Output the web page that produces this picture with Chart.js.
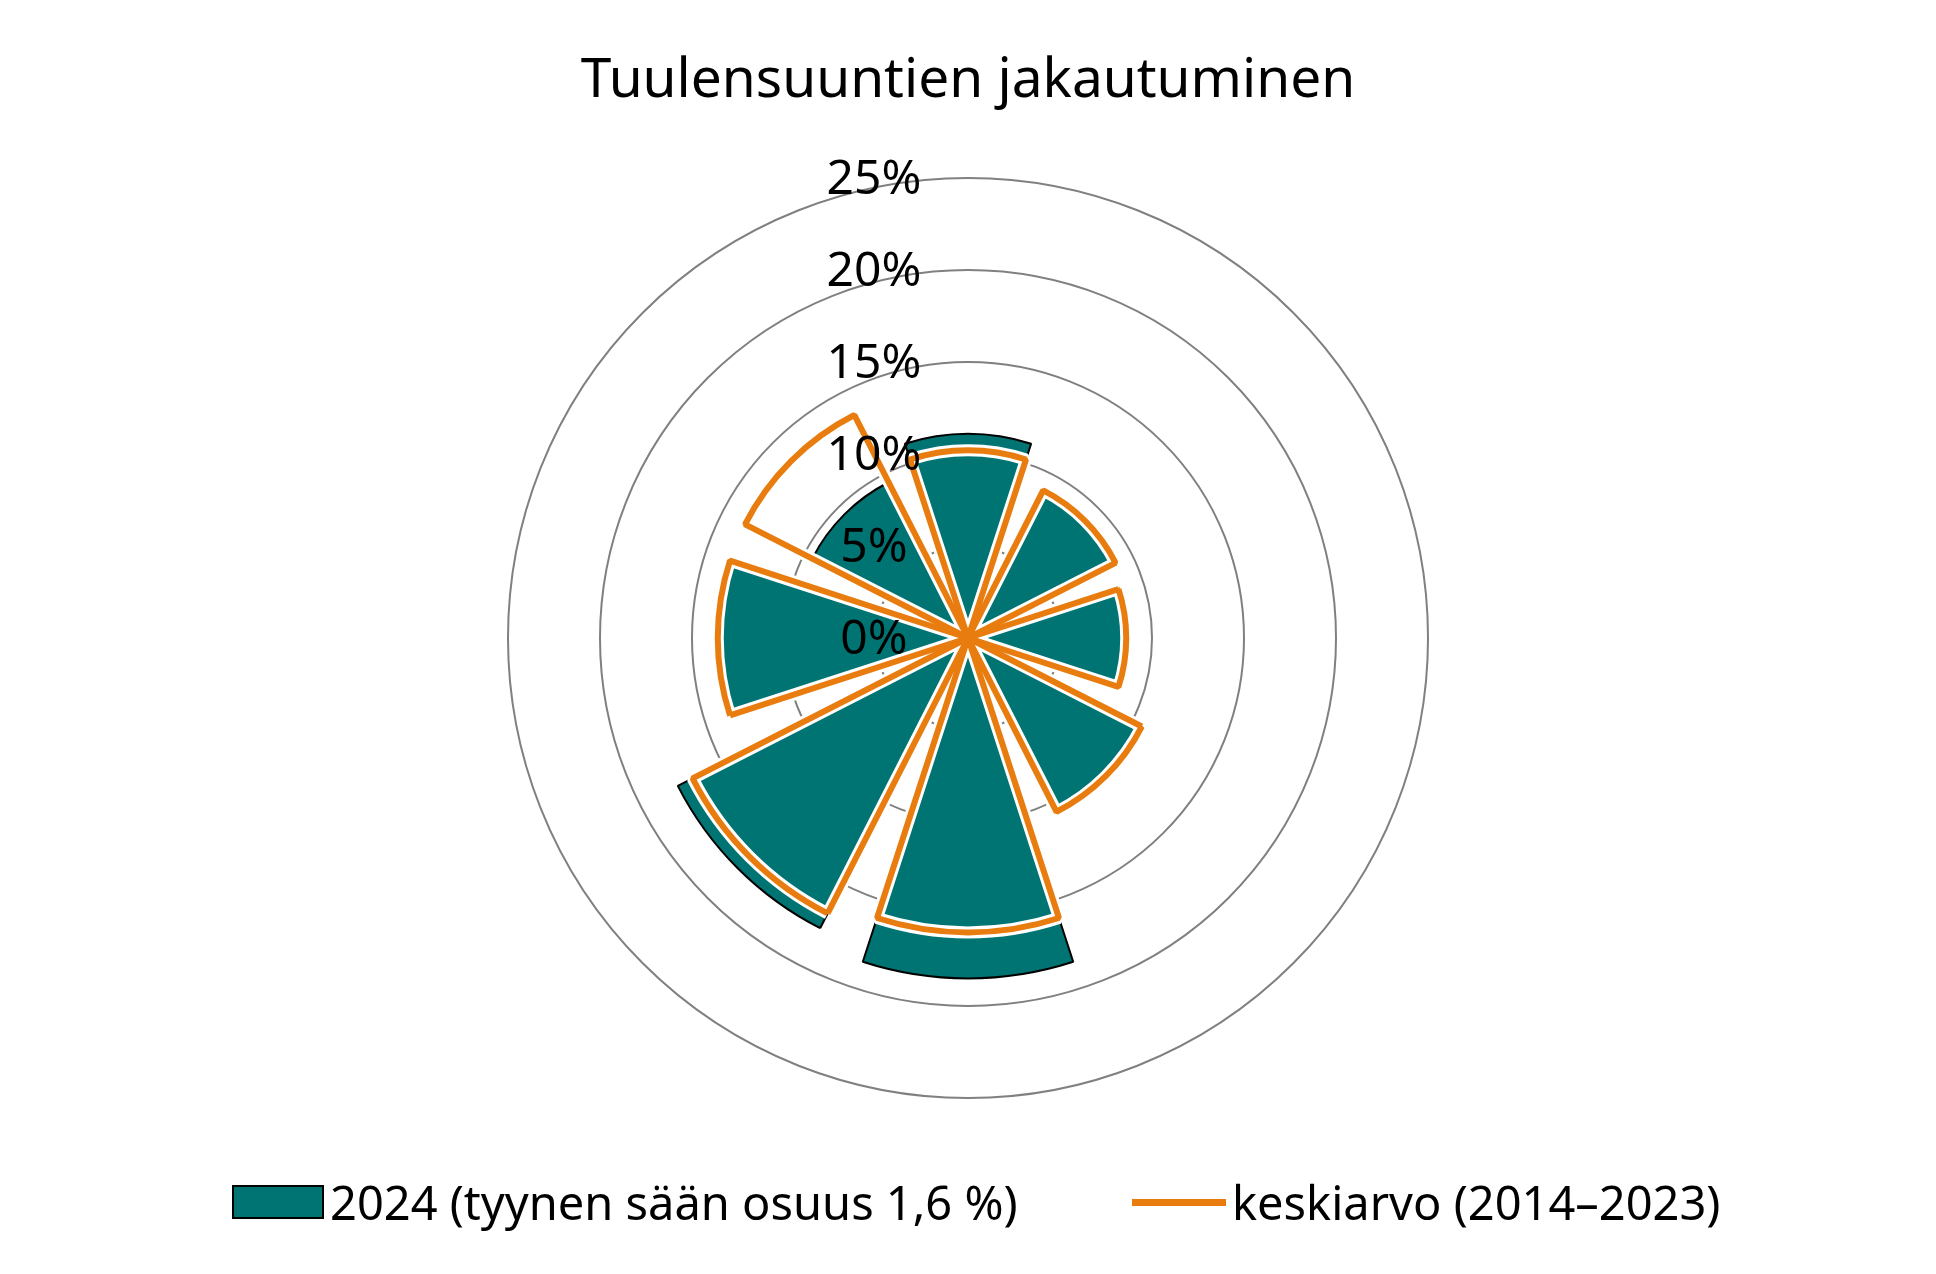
<!DOCTYPE html>
<html><head><meta charset="utf-8">
<script src="https://cdn.jsdelivr.net/npm/chart.js@4"></script>
<style>
body{margin:0;background:#fff;width:1936px;height:1274px;position:relative;overflow:hidden;font-family:"Noto Sans",sans-serif}
#title{position:absolute;top:38px;width:100%;text-align:center;font-size:55px;color:#000}
#legend{position:absolute;top:1170px;left:0;width:100%;font-size:47px;color:#000}
.li{position:absolute;display:flex;align-items:center}
</style></head><body>
<canvas id="c" width="1936" height="1274" style="position:absolute;left:0;top:0"></canvas>
<div id="title">Tuulensuuntien jakautuminen</div>
<div id="legend">
 <div class="li" style="left:232px"><span style="display:inline-block;width:88px;height:30px;background:#007473;border:2px solid #000;margin-right:6px"></span>2024 (tyynen sään osuus 1,6 %)</div>
 <div class="li" style="left:1132px"><span style="display:inline-block;width:94px;height:7px;background:#E87C0E;margin-right:6px"></span>keskiarvo (2014–2023)</div>
</div>
<script>
const directions = ["N","NE","E","SE","S","SW","W","NW"];
const values2024 = [11.1, 8.9, 8.5, 10.6, 18.5, 17.7, 13.4, 9.5];
const valuesAvg = [10.2, 9.0, 8.6, 10.6, 16.0, 16.8, 13.6, 13.6];
const tickLabels = ["0%","5%","10%","15%","20%","25%"];

const labels = [], d1 = [], d2 = [];
directions.forEach((d,i)=>{labels.push(d, ""); d1.push(values2024[i], 0); d2.push(valuesAvg[i], 0);});
const angleFn = ctx => (ctx.dataIndex % 2 === 0 ? 36 : 9);

const tickPlugin = {
  id:'ticks',
  afterDatasetsDraw(chart){
    const s = chart.scales.r, c = chart.ctx;
    c.save(); c.font = '48px "Noto Sans"'; c.fillStyle = '#000'; c.textAlign='center'; c.textBaseline='middle';
    tickLabels.forEach((t,i)=>{
      const r = s.getDistanceFromCenterForValue(i*5);
      c.fillText(t, s.xCenter - 94, s.yCenter - r + 2);
    });
    c.restore();
  }
};

new Chart(document.getElementById('c'), {
  type:'polarArea',
  data:{labels, datasets:[
    {label:'2024', data:d1, backgroundColor:'#007473', borderColor:'#000', borderWidth:2, angle:angleFn, order:2},
    {label:'halo', data:d2, backgroundColor:'rgba(0,0,0,0)', borderColor:'#fff', borderWidth:12, angle:angleFn, order:1},
    {label:'keskiarvo', data:d2, backgroundColor:'rgba(0,0,0,0)', borderColor:'#E87C0E', borderWidth:6, angle:angleFn, order:0}
  ]},
  options:{
    responsive:false, animation:false,
    layout:{padding:{top:178,bottom:176,left:508,right:508}},
    plugins:{legend:{display:false}, title:{display:false}, tooltip:{enabled:false}},
    scales:{r:{min:0,max:25,startAngle:-18,
      ticks:{stepSize:5, display:false},
      grid:{color:'#808080', lineWidth:2},
      angleLines:{display:false},
      pointLabels:{display:false}}}
  },
  plugins:[tickPlugin]
});
</script></body></html>
